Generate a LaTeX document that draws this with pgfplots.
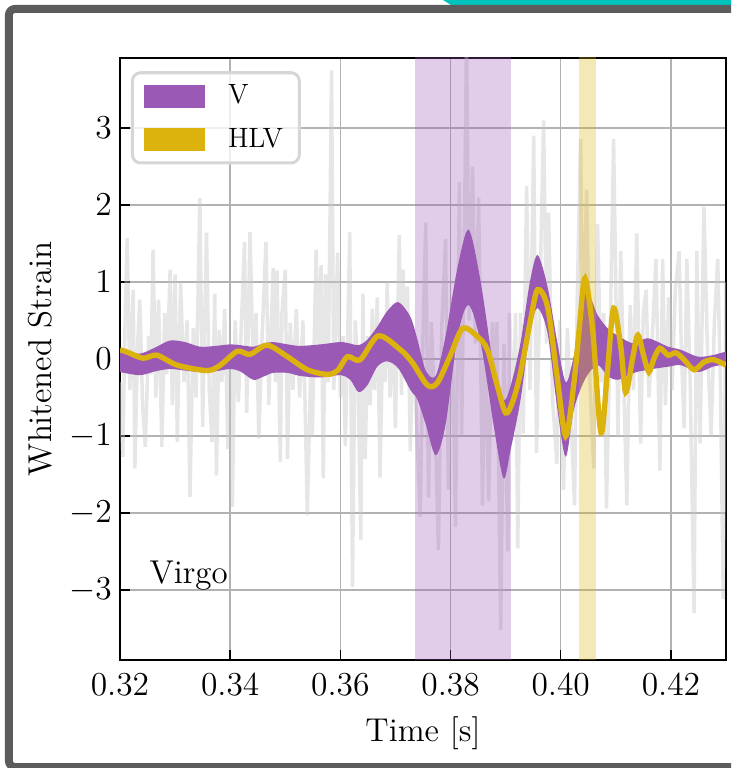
\documentclass[border=0pt]{standalone}
\usepackage{pgfplots}
\pgfplotsset{compat=1.18}
\usepackage{pgfplotstable}
\definecolor{vpurple}{RGB}{155,89,182}
\definecolor{hlvyellow}{RGB}{220,178,12}
\definecolor{noisegray}{RGB}{200,200,200}
\definecolor{framegray}{RGB}{92,92,92}
\definecolor{tealtab}{RGB}{0,196,188}
\definecolor{gridgray}{RGB}{178,178,178}
\definecolor{legframe}{RGB}{214,214,214}
\newcommand\axfont{\fontsize{14.2}{17}\selectfont}
\newcommand\legfont{\fontsize{12}{14.4}\selectfont}

% V credible band: upper edge left to right, then lower edge right to left
\pgfplotstableread{
t y
0.3200 0.09
0.3236 0.07
0.3264 0.15
0.3291 0.24
0.3318 0.22
0.3345 0.16
0.3373 0.17
0.3400 0.19
0.3418 0.18
0.3442 0.16
0.3460 0.20
0.3478 0.22
0.3504 0.19
0.3527 0.17
0.3564 0.19
0.3600 0.22
0.3618 0.20
0.3633 0.18
0.3649 0.25
0.3667 0.42
0.3685 0.62
0.3705 0.74
0.3727 0.55
0.3740 0.25
0.3755 -0.15
0.3773 -0.22
0.3791 0.30
0.3813 1.20
0.3833 1.68
0.3855 0.99
0.3878 -0.10
0.3896 -0.53
0.3909 -0.35
0.3927 0.21
0.3944 1.00
0.3958 1.35
0.3976 0.94
0.3993 0.25
0.4009 -0.30
0.4024 0.05
0.4045 0.86
0.4067 0.57
0.4085 0.40
0.4104 0.30
0.4133 0.20
0.4158 0.27
0.4195 0.16
0.4218 0.12
0.4249 0.03
0.4276 0.05
0.4302 0.09
0.4302 -0.05
0.4276 -0.10
0.4249 -0.17
0.4218 -0.08
0.4195 -0.10
0.4158 -0.14
0.4133 -0.18
0.4104 -0.27
0.4085 -0.22
0.4067 -0.08
0.4045 -0.25
0.4024 -0.65
0.4009 -1.27
0.3993 -0.60
0.3976 0.34
0.3958 0.66
0.3944 0.35
0.3927 -0.53
0.3909 -1.18
0.3896 -1.55
0.3878 -0.85
0.3855 0.20
0.3833 0.70
0.3813 0.30
0.3791 -0.85
0.3773 -1.25
0.3755 -0.85
0.3740 -0.53
0.3727 -0.40
0.3705 -0.12
0.3685 -0.03
0.3667 -0.10
0.3649 -0.34
0.3633 -0.43
0.3618 -0.27
0.3600 -0.21
0.3564 -0.24
0.3527 -0.22
0.3504 -0.18
0.3478 -0.18
0.3460 -0.23
0.3442 -0.27
0.3418 -0.16
0.3400 -0.13
0.3373 -0.16
0.3345 -0.17
0.3318 -0.15
0.3291 -0.13
0.3264 -0.16
0.3236 -0.21
0.3200 -0.17
}\vband

\pgfplotstableread{
t y
0.3200 0.12
0.3213 0.09
0.3242 0.01
0.3267 0.05
0.3304 -0.08
0.3358 -0.15
0.3382 -0.08
0.3413 0.10
0.3436 0.06
0.3467 0.18
0.3504 0.03
0.3540 -0.14
0.3576 -0.20
0.3595 -0.15
0.3613 0.03
0.3636 -0.01
0.3669 0.30
0.3709 0.12
0.3731 -0.05
0.3758 -0.34
0.3776 -0.31
0.3800 0.05
0.3822 0.40
0.3849 0.29
0.3867 0.12
0.3885 -0.35
0.3900 -0.70
0.3913 -0.55
0.3927 -0.18
0.3945 0.50
0.3958 0.90
0.3976 0.68
0.3993 -0.20
0.4009 -1.00
0.4024 -0.31
0.4035 0.50
0.4044 1.05
0.4058 0.38
0.4073 -0.96
0.4085 -0.14
0.4096 0.66
0.4109 0.16
0.4118 -0.43
0.4131 0.03
0.4140 0.31
0.4151 0.03
0.4160 -0.17
0.4169 0.00
0.4180 0.14
0.4195 0.05
0.4209 0.08
0.4224 -0.01
0.4242 -0.14
0.4260 -0.04
0.4278 -0.01
0.4300 -0.08
}\hlv

\pgfplotstableread{
t y
0.3200 -0.30
0.3205 -1.27
0.3209 0.40
0.3213 1.57
0.3218 -0.40
0.3224 0.90
0.3227 -1.42
0.3232 0.20
0.3236 0.77
0.3241 -0.60
0.3246 -1.14
0.3252 0.30
0.3256 -0.20
0.3260 1.42
0.3265 -0.50
0.3270 0.77
0.3276 -1.14
0.3281 0.60
0.3285 -0.20
0.3291 1.16
0.3295 -0.60
0.3300 1.10
0.3304 -1.08
0.3310 1.00
0.3316 -0.30
0.3322 0.50
0.3327 -1.79
0.3333 0.40
0.3338 -0.50
0.3345 2.09
0.3350 -0.88
0.3357 1.64
0.3362 -0.40
0.3367 -1.08
0.3372 0.85
0.3375 -1.51
0.3380 0.38
0.3385 -0.30
0.3390 0.65
0.3396 -1.17
0.3400 0.20
0.3404 -1.92
0.3409 0.50
0.3415 -0.56
0.3420 0.40
0.3426 1.52
0.3430 -0.70
0.3436 1.65
0.3442 -0.20
0.3447 0.60
0.3452 -1.03
0.3458 0.30
0.3465 1.52
0.3470 -0.60
0.3474 0.30
0.3478 1.18
0.3482 -0.30
0.3485 1.15
0.3491 -1.34
0.3494 0.60
0.3500 1.16
0.3504 -1.30
0.3509 0.47
0.3514 -0.40
0.3520 0.65
0.3526 -0.50
0.3532 0.50
0.3536 -0.60
0.3540 -2.03
0.3546 -0.20
0.3549 -1.00
0.3556 1.42
0.3560 0.10
0.3565 1.22
0.3569 -1.55
0.3573 1.10
0.3578 -0.30
0.3584 3.75
0.3588 -0.40
0.3595 1.38
0.3600 -0.50
0.3605 0.30
0.3609 -1.13
0.3613 0.20
0.3617 1.65
0.3622 -2.96
0.3627 0.50
0.3632 -0.20
0.3637 -2.35
0.3641 0.85
0.3645 -1.30
0.3650 0.30
0.3654 -0.60
0.3658 0.65
0.3662 -0.40
0.3667 0.80
0.3672 -1.54
0.3677 0.30
0.3681 -0.30
0.3685 1.00
0.3690 -0.50
0.3695 0.40
0.3700 -0.90
0.3707 1.61
0.3711 -0.47
0.3714 1.16
0.3718 -0.20
0.3722 0.94
0.3727 -1.20
0.3732 0.30
0.3738 -0.80
0.3745 -2.05
0.3750 0.30
0.3755 1.77
0.3760 -1.80
0.3765 0.48
0.3771 -0.60
0.3778 -2.48
0.3784 0.40
0.3791 1.56
0.3796 -1.70
0.3802 0.80
0.3809 -2.18
0.3816 2.30
0.3820 -1.00
0.3825 1.50
0.3829 4.20
0.3834 0.50
0.3840 2.50
0.3845 0.20
0.3851 2.10
0.3858 -1.90
0.3863 0.50
0.3869 -1.85
0.3876 0.48
0.3880 -0.80
0.3884 0.48
0.3891 -3.52
0.3897 0.20
0.3904 -2.50
0.3907 0.60
0.3914 -0.80
0.3918 0.60
0.3922 -2.46
0.3927 0.60
0.3932 -0.97
0.3938 2.25
0.3944 -0.40
0.3951 2.90
0.3956 -1.22
0.3962 0.80
0.3969 3.10
0.3974 0.20
0.3978 1.90
0.3985 -0.50
0.3993 -1.36
0.3998 0.50
0.4005 -1.70
0.4012 0.40
0.4018 -0.60
0.4025 -1.90
0.4030 0.80
0.4036 2.86
0.4040 0.30
0.4047 2.20
0.4053 -0.30
0.4060 -1.42
0.4067 1.75
0.4073 -0.30
0.4078 0.60
0.4083 -1.94
0.4090 0.40
0.4096 2.86
0.4104 -1.00
0.4109 1.40
0.4115 -0.50
0.4120 -1.90
0.4126 0.70
0.4132 -0.40
0.4138 1.63
0.4145 -1.10
0.4150 0.60
0.4155 0.90
0.4160 -0.50
0.4167 0.40
0.4173 1.30
0.4180 -1.45
0.4185 1.30
0.4190 -0.60
0.4196 0.80
0.4202 -0.40
0.4208 0.90
0.4215 1.40
0.4219 0.10
0.4224 -0.90
0.4229 1.30
0.4235 -0.30
0.4242 -3.30
0.4247 1.40
0.4253 -1.10
0.4260 1.98
0.4266 0.20
0.4273 -1.00
0.4279 0.50
0.4285 1.30
0.4290 -0.40
0.4295 -3.12
0.4300 1.00
}\noise

\begin{document}
\begin{tikzpicture}
\useasboundingbox (0,0) rectangle (314.33pt,330.24pt);
\clip (0,0) rectangle (314.33pt,330.24pt);
\fill[tealtab] (190.5pt,331pt) -- (190.5pt,330.24pt) -- (194.4pt,327.8pt) -- (320pt,327.8pt) -- (320pt,331pt) -- cycle;
\draw[framegray, line width=3.44pt, rounded corners=2.5pt] (3.87pt,0.43pt) rectangle (330pt,326.37pt);
\begin{axis}[
  at={(51.6pt,46.44pt)}, anchor=south west,
  scale only axis, width=260.58pt, height=258.86pt,
  xmin=0.32, xmax=0.43, ymin=-3.91, ymax=3.91,
  xtick={0.32,0.34,0.36,0.38,0.40,0.42},
  ytick={-3,-2,-1,0,1,2,3},
  scaled x ticks=false,
  xticklabel style={yshift=-2.6pt, /pgf/number format/.cd, fixed, fixed zerofill, precision=2},
  grid=major, grid style={gridgray, line width=0.65pt},
  tick align=inside, tick pos=left, major tick length=4.3pt,
  tick style={black, line width=0.6pt},
  axis line style={black, line width=0.7pt},
  font=\axfont,
  xlabel={Time [s]}, ylabel={Whitened Strain},
  xlabel style={at={(axis description cs:0.5,-0.121)}, anchor=center},
  ylabel style={at={(axis description cs:-0.132,0.5)}, anchor=center},
  legend cell align=left,
  legend style={at={(axis description cs:0.018,0.978)}, anchor=north west,
    draw=legframe, line width=1.3pt, rounded corners=3.5pt,
    fill=white, fill opacity=0.8, text opacity=1, draw opacity=1,
    inner xsep=5pt, inner ysep=3.2pt, row sep=5pt,
    nodes={inner sep=2pt},
    /tikz/every odd column/.append style={column sep=7.8pt}},
]
\addplot[noisegray, opacity=0.45, line width=1.5pt, forget plot] table[x=t,y=y]{\noise};
\addplot[fill=vpurple, fill opacity=0.3, draw=none, forget plot]
  coordinates {(0.3736,-5) (0.3736,5) (0.3909,5) (0.3909,-5)};
\addplot[fill=vpurple, draw=none, smooth, forget plot] table[x=t,y=y]{\vband};
\addplot[fill=hlvyellow, fill opacity=0.3, draw=none, forget plot]
  coordinates {(0.4033,-5) (0.4033,5) (0.4064,5) (0.4064,-5)};
\addplot[hlvyellow, line width=2.3pt, smooth, forget plot] table[x=t,y=y]{\hlv};
\addlegendimage{legend image code/.code={\fill[vpurple, fill opacity=1, sharp corners] (0pt,-4.3pt) rectangle (25pt,4.3pt);}}
\addlegendentry{\legfont V}
\addlegendimage{legend image code/.code={\fill[hlvyellow, fill opacity=1, sharp corners] (0pt,-4.3pt) rectangle (25pt,4.3pt);}}
\addlegendentry{\legfont HLV}
\node[anchor=base west, inner sep=0pt] at (axis cs:0.3253,-2.91) {Virgo};
\end{axis}
\end{tikzpicture}
\end{document}
